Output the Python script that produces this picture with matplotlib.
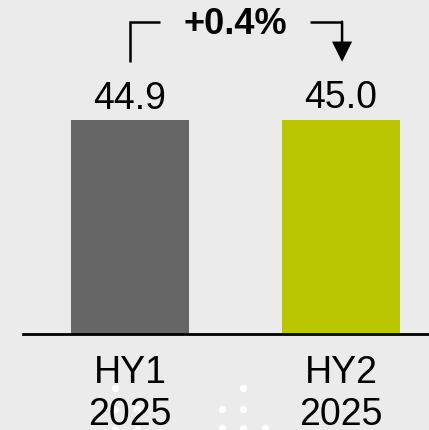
import matplotlib
matplotlib.use("Agg")
import matplotlib.pyplot as plt
from matplotlib.transforms import blended_transform_factory

plt.rcParams['font.family'] = ['Liberation Sans', 'DejaVu Sans']

categories = ["HY1\n2025", "HY2\n2025"]
values = [44.9, 45.0]
value_labels = ["44.9", "45.0"]
change_label = "+0.4%"
bar_colors = ["#666666", "#bac600"]
bg = "#ebebeb"

# decorative dot pattern (figure pixel positions from top-left)
dots_px = [(115, 389), (115, 410), (137, 410), (115, 430), (137, 430),
           (243, 389), (222, 410), (243, 410), (222, 429), (243, 429), (265, 429)]

W, H = 429, 431
fig = plt.figure(figsize=(W / 100, H / 100), dpi=100, facecolor=bg)

# background decoration axes
bax = fig.add_axes([0, 0, 1, 1], zorder=0)
bax.set_xlim(0, W)
bax.set_ylim(H, 0)
bax.axis("off")
bax.scatter([d[0] for d in dots_px], [d[1] for d in dots_px], s=28, color="white", lw=0)

base_y = 334.5
ax = fig.add_axes([23 / W, (H - base_y) / H, 1 - 23 / W, base_y / H], zorder=1)
ax.set_facecolor("none")
x = list(range(len(values)))
ax.bar(x, values, width=0.559, color=bar_colors, zorder=2)
ax.set_xlim(-0.507, 1.417)
ax.set_ylim(0, 70.5)
for s in ["top", "right", "left"]:
    ax.spines[s].set_visible(False)
ax.spines["bottom"].set_linewidth(2.0)
ax.spines["bottom"].set_color("black")
ax.set_yticks([])
ax.set_xticks(x)
ax.set_xticklabels(categories, fontsize=27, color="black", linespacing=1.2)
ax.tick_params(axis="x", length=0, pad=15)

for xi, v, lab in zip(x, values, value_labels):
    ax.annotate(lab, (xi, v), xytext=(0, 9), textcoords="offset points",
                ha="center", va="baseline", fontsize=27, color="black")

# bracket with arrow
tr = blended_transform_factory(ax.transData, fig.transFigure)
y_top = 1 - 22.7 / H
y_bot = 1 - 62.7 / H
lw = 1.8
ax.plot([x[0], x[0], x[0] + 0.142], [y_bot, y_top, y_top], color="black", lw=lw,
        transform=tr, clip_on=False, solid_joinstyle="miter", solid_capstyle="butt")
ax.plot([x[1] - 0.145, x[1] + 0.005], [y_top, y_top], color="black", lw=lw,
        transform=tr, clip_on=False, solid_joinstyle="miter", solid_capstyle="butt")
ax.annotate("", xy=(x[1] + 0.005, y_bot), xycoords=tr,
            xytext=(x[1] + 0.005, y_top), textcoords=tr,
            arrowprops=dict(arrowstyle="-|>,head_length=0.58,head_width=0.29",
                            mutation_scale=20, color="black", lw=lw,
                            shrinkA=0, shrinkB=0, joinstyle="miter"))
fig.text(235.5 / W, 1 - 24.5 / H, change_label, ha="center", va="center",
         fontsize=26, fontweight="bold", color="black")

fig.savefig("out.png", dpi=100, facecolor=bg)
